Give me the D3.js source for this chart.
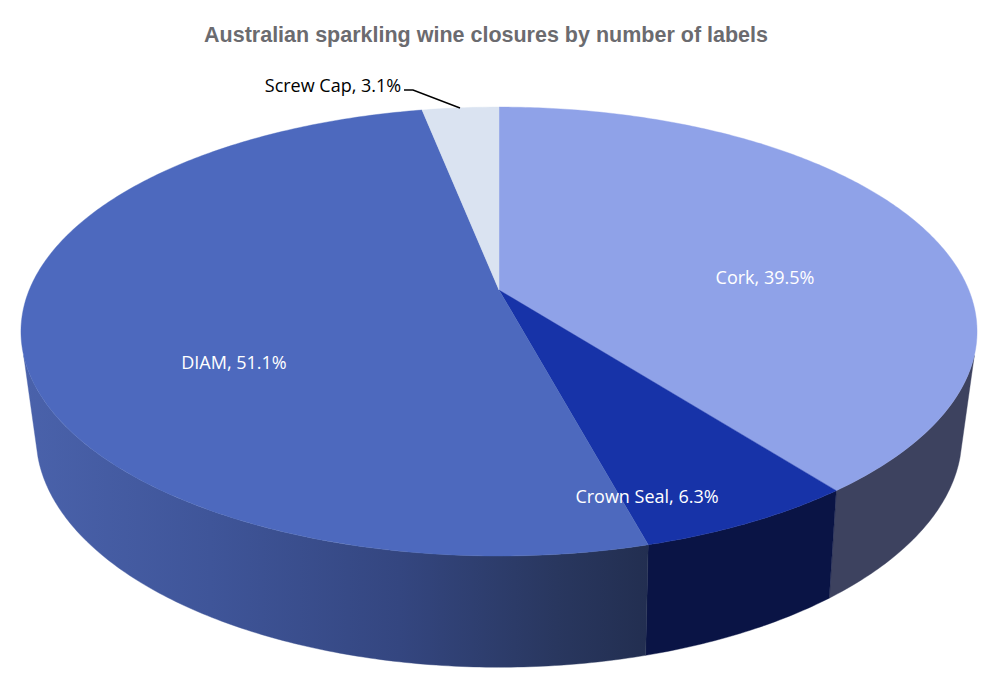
<!DOCTYPE html>
<html><head><meta charset="utf-8">
<script src="https://cdn.jsdelivr.net/npm/d3@7/dist/d3.min.js"></script>
<style>html,body{margin:0;padding:0;background:#fff}svg{display:block}</style>
</head><body><svg id="c" width="1000" height="687"></svg>
<script>
const categories = ["Cork", "Crown Seal", "DIAM", "Screw Cap"];
const shares = [39.5, 6.3, 51.1, 3.1];
const topColors = ["#8fa2e8", "#1733a8", "#4d69be", "#dae3f1"];
const wallColors = ["#3d425f", "#0a1445", "url(#diamWall)", "#b0b8c4"];
const chartTitle = "Australian sparkling wine closures by number of labels";

const svg = d3.select("#c");
const cx = 499;
const topPlane = {a: 469.8, b: 216.8, k: 0.185, y: 290};
const basePlane = {a: 453.6, b: 221.8, k: 0.2, y: 390};
const project = (p, t) => {
  const w = 1 + p.k * Math.cos(t);
  return [cx + p.a * Math.sin(t) / w, p.y - p.b * Math.cos(t) / w];
};
const arcAngles = (a0, a1) => {
  const n = Math.max(2, Math.ceil(Math.abs(a1 - a0) * 90));
  const s = d3.scaleLinear().domain([0, n]).range([a0, a1]);
  return d3.range(n + 1).map(s);
};
const line = d3.line();
const pie = d3.pie().sort(null).value((d, i) => shares[i]);
const slices = pie(categories);

const defs = svg.append("defs");
const grad = defs.append("linearGradient").attr("id", "diamWall")
  .attr("gradientUnits", "userSpaceOnUse")
  .attr("x1", 22).attr("x2", 651).attr("y1", 0).attr("y2", 0);
[[0, "#4a62ab"], [0.3, "#3f5599"], [0.6, "#344680"], [0.85, "#29375f"], [1, "#222e50"]]
  .forEach(s => grad.append("stop").attr("offset", s[0]).attr("stop-color", s[1]));

const tangent = 106.6 * Math.PI / 180;
const wallFrom = tangent, wallTo = 2 * Math.PI - tangent;

svg.append("g").selectAll("path").data(slices).join("path")
  .attr("d", d => {
    const a0 = Math.max(d.startAngle, wallFrom), a1 = Math.min(d.endAngle, wallTo);
    if (a1 <= a0) return null;
    const up = arcAngles(a0, a1).map(t => project(topPlane, t));
    const down = arcAngles(a1, a0).map(t => project(basePlane, t));
    return line(up.concat(down)) + "Z";
  })
  .attr("fill", d => wallColors[d.index])
  .attr("stroke", d => wallColors[d.index]).attr("stroke-width", 0.4);

svg.append("g").selectAll("path").data(slices).join("path")
  .attr("d", d => line([[cx, topPlane.y]].concat(arcAngles(d.startAngle, d.endAngle).map(t => project(topPlane, t)))) + "Z")
  .attr("fill", d => topColors[d.index])
  .attr("stroke", d => topColors[d.index]).attr("stroke-width", 0.4);

svg.append("text").attr("x", 486).attr("y", 41.5).attr("text-anchor", "middle")
  .attr("font-family", "'Liberation Sans', Arial, sans-serif").attr("font-weight", "bold")
  .attr("font-size", 21.5).attr("fill", "#6b6b6f").text(chartTitle);

const labelPos = [[765, 283.5], [647, 502.5], [234, 368.5], [333, 91.5]];
const labelFill = ["#fff", "#fff", "#fff", "#000"];
svg.append("g").selectAll("text").data(slices).join("text")
  .attr("x", d => labelPos[d.index][0]).attr("y", d => labelPos[d.index][1])
  .attr("text-anchor", "middle").attr("font-family", "'Open Sans', sans-serif")
  .attr("font-size", 18).attr("fill", d => labelFill[d.index])
  .text(d => `${categories[d.index]}, ${shares[d.index].toFixed(1)}%`);

svg.append("path").attr("d", line([[404, 90], [413, 90], [460, 108]]))
  .attr("fill", "none").attr("stroke", "#000").attr("stroke-width", 1.4);
</script></body></html>
